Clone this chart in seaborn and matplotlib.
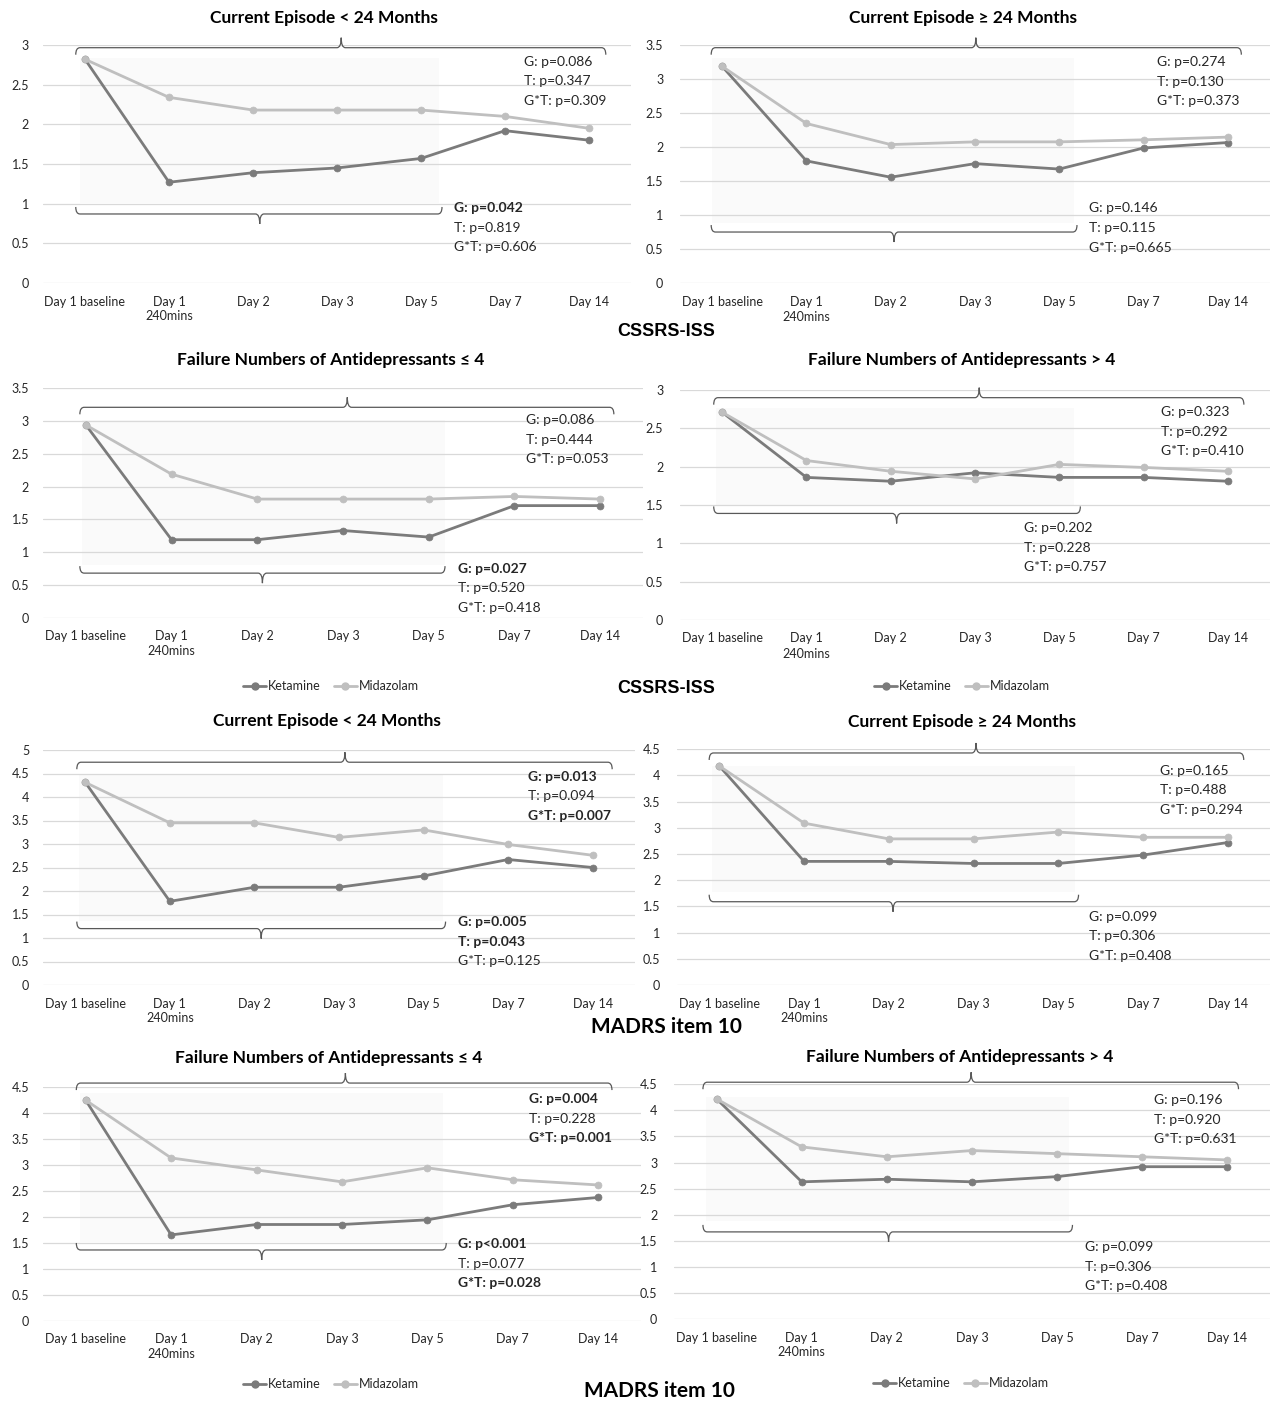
import numpy as np
import pandas as pd
import matplotlib
matplotlib.use("Agg")
import matplotlib.pyplot as plt
from matplotlib.path import Path
from matplotlib.patches import PathPatch, Rectangle
from matplotlib.lines import Line2D
import seaborn as sns

# ---------------------------------------------------------------- data
days = ["Day 1 baseline", "Day 1\n240mins", "Day 2", "Day 3", "Day 5", "Day 7", "Day 14"]
groups = ["Ketamine", "Midazolam"]

# CSSRS-ISS
cssrs_ep_lt24_ketamine = [2.82, 1.27, 1.39, 1.45, 1.57, 1.92, 1.80]
cssrs_ep_lt24_midazolam = [2.82, 2.34, 2.18, 2.18, 2.18, 2.10, 1.95]
cssrs_ep_ge24_ketamine = [3.19, 1.80, 1.56, 1.76, 1.68, 1.99, 2.07]
cssrs_ep_ge24_midazolam = [3.19, 2.35, 2.04, 2.08, 2.08, 2.11, 2.15]
cssrs_fail_le4_ketamine = [2.94, 1.19, 1.19, 1.33, 1.23, 1.71, 1.71]
cssrs_fail_le4_midazolam = [2.94, 2.19, 1.81, 1.81, 1.81, 1.85, 1.81]
cssrs_fail_gt4_ketamine = [2.71, 1.86, 1.81, 1.92, 1.86, 1.86, 1.81]
cssrs_fail_gt4_midazolam = [2.71, 2.08, 1.94, 1.84, 2.03, 1.99, 1.94]

# MADRS item 10
madrs_ep_lt24_ketamine = [4.31, 1.78, 2.08, 2.08, 2.32, 2.67, 2.50]
madrs_ep_lt24_midazolam = [4.31, 3.45, 3.45, 3.14, 3.30, 2.99, 2.76]
madrs_ep_ge24_ketamine = [4.18, 2.36, 2.36, 2.32, 2.32, 2.48, 2.72]
madrs_ep_ge24_midazolam = [4.18, 3.09, 2.79, 2.79, 2.92, 2.82, 2.82]
madrs_fail_le4_ketamine = [4.24, 1.65, 1.85, 1.85, 1.94, 2.23, 2.37]
madrs_fail_le4_midazolam = [4.24, 3.13, 2.90, 2.67, 2.94, 2.71, 2.61]
madrs_fail_gt4_ketamine = [4.22, 2.63, 2.68, 2.63, 2.73, 2.92, 2.92]
madrs_fail_gt4_midazolam = [4.22, 3.30, 3.11, 3.23, 3.17, 3.11, 3.05]

titles = [
    "Current Episode < 24 Months", "Current Episode \u2265 24 Months",
    "Failure Numbers of Antidepressants \u2264 4", "Failure Numbers of Antidepressants > 4",
    "Current Episode < 24 Months", "Current Episode \u2265 24 Months",
    "Failure Numbers of Antidepressants \u2264 4", "Failure Numbers of Antidepressants > 4",
]

# p-values: whole period (top) and Day 1 - Day 5 (bottom); True = bold
pvals_whole = [
    [("G: p=0.086", False), ("T: p=0.347", False), ("G*T: p=0.309", False)],
    [("G: p=0.274", False), ("T: p=0.130", False), ("G*T: p=0.373", False)],
    [("G: p=0.086", False), ("T: p=0.444", False), ("G*T: p=0.053", False)],
    [("G: p=0.323", False), ("T: p=0.292", False), ("G*T: p=0.410", False)],
    [("G: p=0.013", True), ("T: p=0.094", False), ("G*T: p=0.007", True)],
    [("G: p=0.165", False), ("T: p=0.488", False), ("G*T: p=0.294", False)],
    [("G: p=0.004", True), ("T: p=0.228", False), ("G*T: p=0.001", True)],
    [("G: p=0.196", False), ("T: p=0.920", False), ("G*T: p=0.631", False)],
]
pvals_early = [
    [("G: p=0.042", True), ("T: p=0.819", False), ("G*T: p=0.606", False)],
    [("G: p=0.146", False), ("T: p=0.115", False), ("G*T: p=0.665", False)],
    [("G: p=0.027", True), ("T: p=0.520", False), ("G*T: p=0.418", False)],
    [("G: p=0.202", False), ("T: p=0.228", False), ("G*T: p=0.757", False)],
    [("G: p=0.005", True), ("T: p=0.043", True), ("G*T: p=0.125", False)],
    [("G: p=0.099", False), ("T: p=0.306", False), ("G*T: p=0.408", False)],
    [("G: p<0.001", True), ("T: p=0.077", False), ("G*T: p=0.028", True)],
    [("G: p=0.099", False), ("T: p=0.306", False), ("G*T: p=0.408", False)],
]

series = [
    (cssrs_ep_lt24_ketamine, cssrs_ep_lt24_midazolam),
    (cssrs_ep_ge24_ketamine, cssrs_ep_ge24_midazolam),
    (cssrs_fail_le4_ketamine, cssrs_fail_le4_midazolam),
    (cssrs_fail_gt4_ketamine, cssrs_fail_gt4_midazolam),
    (madrs_ep_lt24_ketamine, madrs_ep_lt24_midazolam),
    (madrs_ep_ge24_ketamine, madrs_ep_ge24_midazolam),
    (madrs_fail_le4_ketamine, madrs_fail_le4_midazolam),
    (madrs_fail_gt4_ketamine, madrs_fail_gt4_midazolam),
]
y_max = [3, 3.5, 3.5, 3, 5, 4.5, 4.5, 4.5]

# ---------------------------------------------------------------- layout
W, H = 1270, 1403
# axes boxes in pixels: left, right, top, bottom
boxes = [
    (43, 631, 45, 283), (680, 1270, 45.3, 283.3),
    (43, 643, 388.3, 617.7), (680, 1270, 390, 620),
    (43, 635, 750, 985), (677, 1270, 749.3, 985),
    (43, 641, 1086.7, 1320.7), (674, 1270, 1084.3, 1319),
]
title_pos = [(324, 18), (963, 18), (331, 360), (962, 360),
             (327, 721), (962, 721.5), (329, 1058), (960, 1057)]
# shaded window (x0, x1, y0, y1) in data units
shade = [(-0.06, 4.21, 1.01, 2.84), (-0.12, 4.18, 0.89, 3.32),
         (-0.05, 4.19, 0.80, 3.02), (-0.07, 4.18, 1.50, 2.77),
         (-0.07, 4.23, 1.37, 4.49), (-0.09, 4.20, 1.78, 4.18),
         (-0.07, 4.18, 1.52, 4.37), (-0.12, 4.14, 1.87, 4.26)]
# top brace (x0, x1, xc, y) and bottom brace
brace_top = [(-0.11, 6.20, 3.05, 2.966), (-0.13, 6.16, 3.01, 3.465),
             (-0.07, 6.16, 3.05, 3.21), (-0.10, 6.19, 3.05, 2.90),
             (-0.10, 6.23, 3.07, 4.74), (-0.12, 6.19, 3.03, 4.43),
             (-0.11, 6.16, 3.04, 4.57), (-0.16, 6.13, 2.99, 4.54)]
brace_bot = [(-0.11, 4.25, 2.08, 0.87), (-0.13, 4.21, 2.04, 0.754),
             (-0.07, 4.19, 2.06, 0.68), (-0.10, 4.25, 2.07, 1.39),
             (-0.10, 4.26, 2.08, 1.20), (-0.12, 4.24, 2.05, 1.59),
             (-0.11, 4.22, 2.06, 1.36), (-0.16, 4.18, 2.02, 1.67)]
# p-value blocks: x and first-line y (data units)
ptext_top = [(5.23, 2.786), (5.16, 3.25), (5.14, 3.01), (5.21, 2.71),
             (5.24, 4.43), (5.20, 4.09), (5.19, 4.26), (5.14, 4.19)]
ptext_bot = [(4.39, 0.945), (4.35, 1.10), (4.34, 0.75), (3.58, 1.20),
             (4.41, 1.33), (4.36, 1.30), (4.36, 1.47), (4.33, 1.38)]

KET = "#7b7b7b"
MID = "#bfbfbf"
TXT = "#262626"

sns.set_theme(style="white")
plt.rcParams["font.family"] = ["Lato", "DejaVu Sans"]

fig = plt.figure(figsize=(W / 100, H / 100), dpi=100)
fig.patch.set_facecolor("white")


def draw_brace(ax, x0, x1, xc, y, opens_down, ppu):
    hook = 7.0 / ppu
    tick = 10.0 / ppu
    s = -1 if opens_down else 1
    r = 0.05
    verts = [
        (x0, y + s * hook), (x0, y), (x0 + r, y),
        (xc - r, y), (xc, y), (xc, y - s * tick),
        (xc, y - s * tick), (xc, y), (xc + r, y),
        (x1 - r, y), (x1, y), (x1, y + s * hook),
    ]
    codes = [Path.MOVETO, Path.CURVE3, Path.CURVE3,
             Path.LINETO, Path.CURVE3, Path.CURVE3,
             Path.MOVETO, Path.CURVE3, Path.CURVE3,
             Path.LINETO, Path.CURVE3, Path.CURVE3]
    ax.add_patch(PathPatch(Path(verts, codes), facecolor="none",
                           edgecolor="#595959", lw=0.9, clip_on=False, zorder=3))


axes = []
for i, (ket, mid) in enumerate(series):
    l, r, t, b = boxes[i]
    ax = fig.add_axes([l / W, 1 - b / H, (r - l) / W, (b - t) / H])
    axes.append(ax)
    df = pd.DataFrame({
        "day": days * 2,
        "score": list(ket) + list(mid),
        "group": [groups[0]] * len(ket) + [groups[1]] * len(mid),
    })
    sns.lineplot(data=df, x="day", y="score", hue="group", hue_order=groups,
                 palette={"Ketamine": KET, "Midazolam": MID}, marker="o",
                 markersize=5, linewidth=2.0, sort=False, legend=False,
                 errorbar=None, ax=ax, zorder=4)
    for ln in ax.lines:
        ln.set_markeredgecolor(ln.get_color())
        ln.set_markeredgewidth(0.5)

    ym = y_max[i]
    ax.set_xlim(-0.5, 6.5)
    ax.set_ylim(0, ym)
    ax.set_yticks(np.arange(0, ym + 0.01, 0.5))
    ax.set_yticklabels([f"{v:g}" for v in np.arange(0, ym + 0.01, 0.5)])
    ax.set_xticks(range(len(days)))
    ax.set_xticklabels(days, linespacing=1.3)
    ax.set_xlabel("")
    ax.set_ylabel("")
    ax.set_axisbelow(True)
    ax.grid(axis="y", color="#d9d9d9", lw=0.9)
    ax.grid(axis="x", visible=False)
    for sp in ax.spines.values():
        sp.set_visible(False)
    ax.tick_params(axis="both", length=0, labelsize=9, colors=TXT)
    ax.tick_params(axis="x", pad=9)
    ax.tick_params(axis="y", pad=10 if l < 600 else 12)
    ax.set_facecolor("none")

    ppu = (b - t) / ym
    sx0, sx1, sy0, sy1 = shade[i]
    ax.add_patch(Rectangle((sx0, sy0), sx1 - sx0, sy1 - sy0, facecolor="#fafafa",
                           edgecolor="none", zorder=0.2))
    draw_brace(ax, *brace_top[i], opens_down=True, ppu=ppu)
    draw_brace(ax, *brace_bot[i], opens_down=False, ppu=ppu)

    step = 19.5 / ppu
    for block, (px, py) in ((pvals_whole[i], ptext_top[i]), (pvals_early[i], ptext_bot[i])):
        for k, (txt, bold) in enumerate(block):
            ax.text(px, py - k * step, txt, fontsize=10, color=TXT, ha="left", va="center",
                    fontweight="bold" if bold else "normal", clip_on=False, zorder=5)

    tx, ty = title_pos[i]
    fig.text(tx / W, 1 - ty / H, titles[i], ha="center", va="center",
             fontsize=12.5, fontweight="bold", color="black")

# legends under the second-row and fourth-row panels
handles = [Line2D([], [], color=KET, lw=2.0, marker="o", markersize=5),
           Line2D([], [], color=MID, lw=2.0, marker="o", markersize=5)]
for idx, (cx, cy) in ((2, (331, 686)), (3, (962, 686)), (6, (331, 1384)), (7, (961, 1383))):
    axes[idx].legend(handles, groups, loc="center", ncol=2, frameon=False,
                     bbox_to_anchor=(cx / W, 1 - cy / H), bbox_transform=fig.transFigure,
                     fontsize=9, handlelength=1.9, handletextpad=0.15, columnspacing=1.0,
                     labelcolor=TXT)

# scale labels
for y in (332, 688):
    fig.text(666 / W, 1 - y / H, "CSSRS-ISS", ha="center", va="center", fontsize=13,
             fontweight="bold", family=["Liberation Sans", "DejaVu Sans"], color="black")
fig.text(666 / W, 1 - 1027 / H, "MADRS item 10", ha="center", va="center",
         fontsize=15, fontweight="bold", color="black")
fig.text(659 / W, 1 - 1391 / H, "MADRS item 10", ha="center", va="center",
         fontsize=15, fontweight="bold", color="black")

fig.savefig("out.png", dpi=100, facecolor="white")
